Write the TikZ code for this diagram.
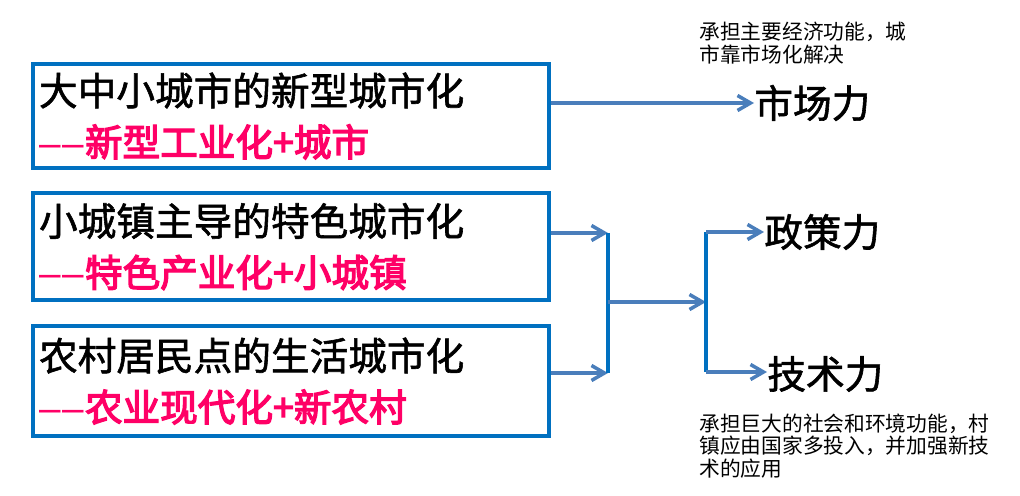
\documentclass[tikz,border=0pt]{standalone}
\usepackage{fontspec}
\usetikzlibrary{arrows.meta}
\newfontfamily\cjk{Noto Sans CJK SC}
\newfontfamily\cjkm{Noto Sans CJK SC}[FakeBold=1.5]
\newfontfamily\cjkp{Noto Sans CJK SC}[FakeBold=3.5]
\newfontfamily\lat{Liberation Sans}
\definecolor{boxblue}{HTML}{0070C0}
\definecolor{arrblue}{HTML}{4A7EBB}
\definecolor{hotpink}{HTML}{FF0066}
\newcommand{\subline}[1]{{\color{hotpink}{\lat –\kern1.2pt–}\kern0.5pt{\cjkp\fontsize{21.4pt}{30pt}\selectfont #1}}}

\begin{document}
\begin{tikzpicture}[x=0.02cm, y=-0.02cm,
    box/.style={draw=boxblue, line width=2pt, minimum width=10.32cm, text width=10.08cm,
        inner xsep=0.12cm, align=left, font=\cjkm\fontsize{22pt}{29pt}\selectfont},
    lbl/.style={inner sep=0pt, anchor=west, font=\cjkm\fontsize{22pt}{26pt}\selectfont},
    note/.style={inner sep=0pt, anchor=west, align=left, font=\cjk\fontsize{11.8pt}{13pt}\selectfont},
    arr/.style={draw=arrblue, line width=2pt, -{Straight Barb[length=0.26cm, width=0.3cm]}},
    bar/.style={draw=boxblue, line width=2pt}]
    \useasboundingbox (0,0) rectangle (1020,496);

    \node[box, minimum height=2.08cm] (b1) at (291,116) {大中小城市的新型城市化\\\subline{新型工业化+城市}};
    \node[box, minimum height=2.14cm] (b2) at (291,246.5) {小城镇主导的特色城市化\\\subline{特色产业化+小城镇}};
    \node[box, minimum height=2.2cm] (b3) at (291,381) {农村居民点的生活城市化\\\subline{农业现代化+新农村}};

    \node[lbl] (mkt) at (754,103) {市场力};
    \node[lbl] (pol) at (764,232) {政策力};
    \node[lbl] (tech) at (767,374) {技术力};

    \node[note] (n1) at (699,43.5) {承担主要经济功能，城\\市靠市场化解决};
    \node[note] (n2) at (699,446) {承担巨大的社会和环境功能，村\\镇应由国家多投入，并加强新技\\术的应用};

    \coordinate (j1t) at (608,233);
    \coordinate (j1m) at (608,302);
    \coordinate (j1b) at (608,373);
    \coordinate (j2t) at (706,232);
    \coordinate (j2m) at (706,302);
    \coordinate (j2b) at (706,372);

    \draw[arr] (b1.east |- mkt.west) -- (mkt.west);
    \draw[arr] (b2.east |- j1t) -- (j1t);
    \draw[arr] (b3.east |- j1b) -- (j1b);
    \draw[bar] (j1t) -- (j1b);
    \draw[arr] (j1m) -- (j2m);
    \draw[bar] (j2t) -- (j2b);
    \draw[arr] (j2t) -- (j2t -| pol.west);
    \draw[arr] (j2b) -- (j2b -| tech.west);
\end{tikzpicture}
\end{document}
